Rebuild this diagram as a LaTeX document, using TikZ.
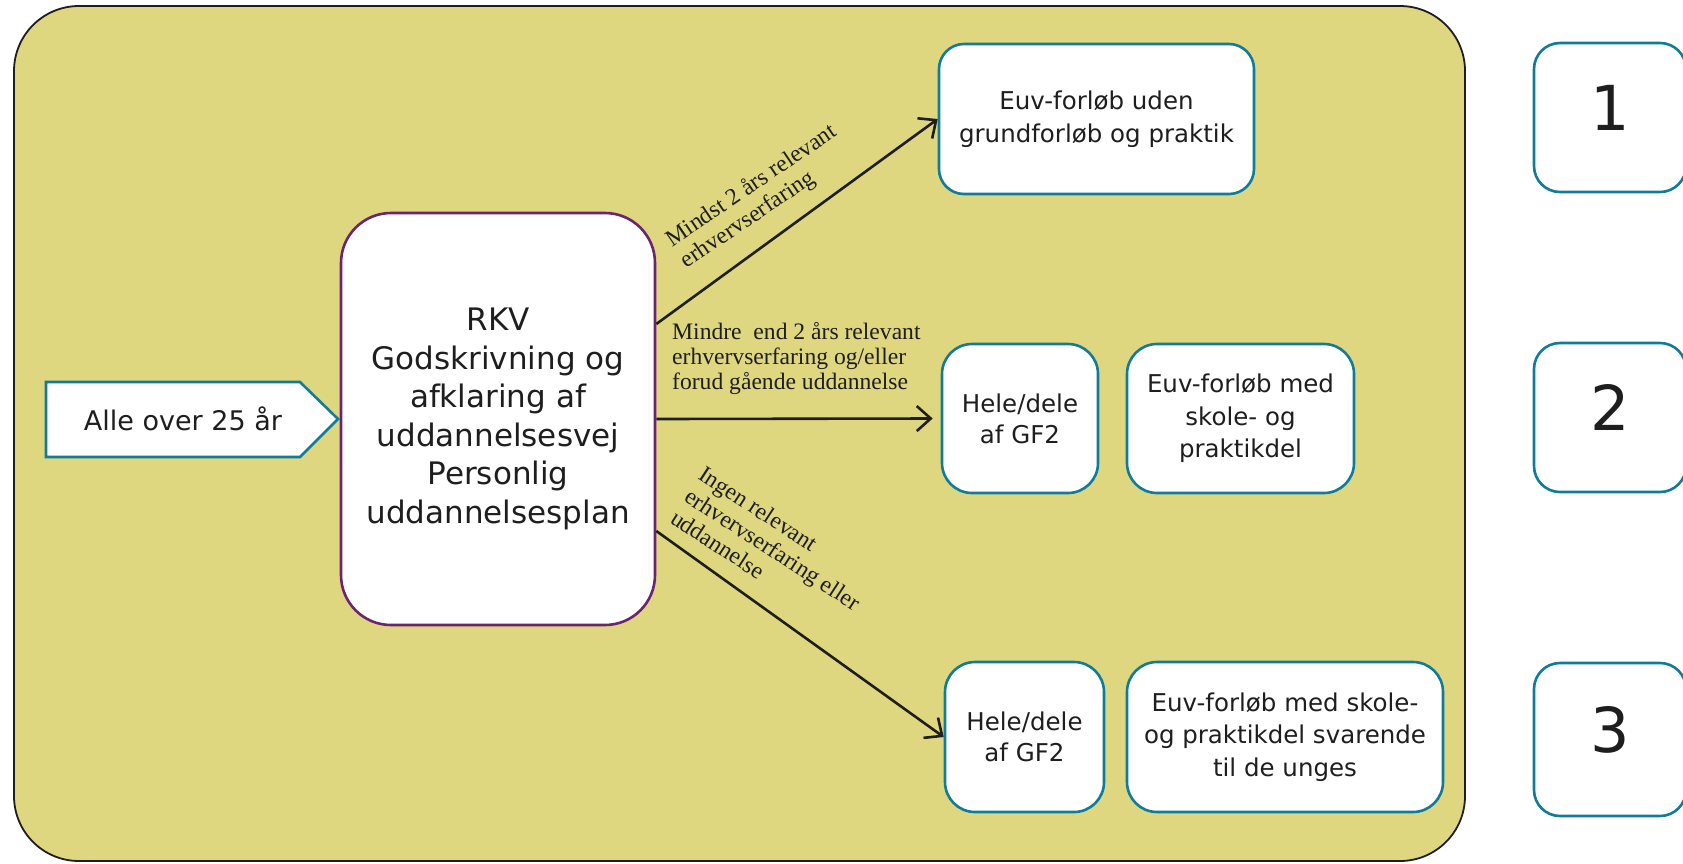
\documentclass[tikz,border=0pt]{standalone}
\usepackage{fontspec}
\newfontfamily\boxfont{DejaVu Sans}
\newfontfamily\lblfont{Liberation Serif}
\usetikzlibrary{arrows.meta}
\definecolor{bgfill}{HTML}{DFD680}
\definecolor{tealc}{HTML}{107C9A}
\definecolor{purplec}{HTML}{6B2470}
\definecolor{txtc}{HTML}{1E1E1E}
\tikzset{
  bigbox/.style={draw=txtc, line width=1.8pt, fill=bgfill, rounded corners=65pt, inner sep=0pt},
  tealbox/.style={draw=tealc, line width=2.6pt, fill=white, rounded corners=#1, inner sep=0pt, text=txtc, align=center},
  mainbox/.style={draw=purplec, line width=2.6pt, fill=white, rounded corners=50pt, inner sep=0pt, text=txtc, align=center,
    font={\boxfont\fontsize{31}{38.5}\selectfont}},
  startshape/.style={draw=tealc, line width=2.6pt, fill=white, line join=miter},
  midtext/.style={font={\boxfont\fontsize{24.5}{32.5}\selectfont}},
  heletext/.style={font={\boxfont\fontsize{24.5}{31}\selectfont}},
  numtext/.style={font={\boxfont\fontsize{62}{70}\selectfont}, text height=46pt, text depth=21pt},
  lbl/.style={inner sep=0pt, text=txtc, align=left},
  arr/.style={draw=txtc, line width=2.6pt, -{Straight Barb[length=14pt,width=25pt]}}
}
\begin{document}
\begin{tikzpicture}[x=1pt,y=-1pt]
\clip (0,0) rectangle (1683,863);
\fill[white] (0,0) rectangle (1683,863);

% background panel
\node[bigbox, minimum width=1451pt, minimum height=855pt] (bg) at (739.5,433.5) {};

% start arrow
\draw[startshape] (46,382) -- (300,382) -- (338,419) -- (300,457) -- (46,457) -- cycle;
\node[text=txtc, font={\boxfont\fontsize{27}{32}\selectfont}] (start) at (183,419) {Alle over 25 år};

% main box
\node[mainbox, minimum width=314pt, minimum height=412pt] (main) at (498,419)
  {RKV\\Godskrivning og\\afklaring af\\uddannelsesvej\\Personlig\\uddannelsesplan};

% right boxes
\node[tealbox=25pt, midtext, minimum width=315pt, minimum height=150pt] (box1) at (1096.5,119)
  {Euv-forløb uden\\grundforløb og praktik};
\node[tealbox=30pt, heletext, minimum width=156pt, minimum height=149pt] (box2a) at (1020,418.5)
  {Hele/dele\\af GF2};
\node[tealbox=30pt, midtext, minimum width=227pt, minimum height=149pt] (box2b) at (1240.5,418.5)
  {Euv-forløb med\\skole- og\\praktikdel};
\node[tealbox=30pt, heletext, minimum width=159pt, minimum height=150pt] (box3a) at (1024.5,737)
  {Hele/dele\\af GF2};
\node[tealbox=30pt, midtext, minimum width=316pt, minimum height=150pt] (box3b) at (1285,737)
  {Euv-forløb med skole-\\og praktikdel svarende\\til de unges};

% number boxes
\node[tealbox=26pt, numtext, minimum width=152pt, minimum height=149pt] (n1) at (1610,117.5) {1};
\node[tealbox=26pt, numtext, minimum width=152pt, minimum height=149pt] (n2) at (1610,417.5) {2};
\node[tealbox=26pt, numtext, minimum width=152pt, minimum height=153pt] (n3) at (1610,739.5) {3};

% connectors
\draw[arr] ([yshift=95pt]main.east) -- (box1.west);
\draw[arr] (main.east) -- ([xshift=-8pt]box2a.west);
\draw[arr] ([yshift=-112pt]main.east) -- (box3a.west);

% labels
\node[lbl, rotate=34, font={\lblfont\fontsize{23.6}{26}\selectfont}] (l1) at (759,197)
  {Mindst 2 års relevant\\erhvervserfaring};
\node[lbl, anchor=west, font={\lblfont\fontsize{23.6}{25}\selectfont}] (l2) at (672,358)
  {Mindre\ \ end 2 års relevant\\erhvervserfaring og/eller\\forud gående uddannelse};
\node[lbl, rotate=-33, font={\lblfont\fontsize{23.6}{26}\selectfont}] (l3) at (773,549)
  {Ingen relevant\\erhvervserfaring eller\\uddannelse};
\end{tikzpicture}
\end{document}
